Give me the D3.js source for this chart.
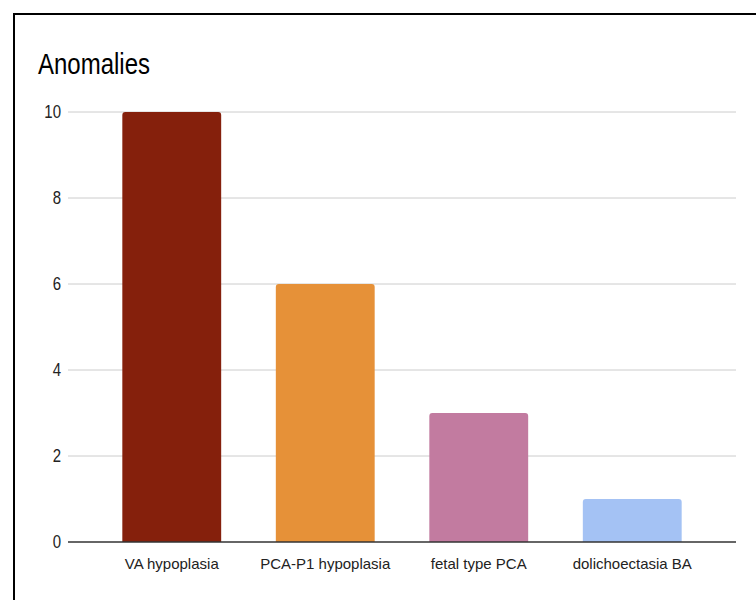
<!DOCTYPE html>
<html><head><meta charset="utf-8">
<script src="https://cdn.jsdelivr.net/npm/d3@7"></script>
<style>html,body{margin:0;padding:0;background:#fff;}svg{display:block;}</style>
</head><body>
<svg id="chart" width="756" height="600"></svg>
<script>
const categories = ["VA hypoplasia", "PCA-P1 hypoplasia", "fetal type PCA", "dolichoectasia BA"];
const values = [10, 6, 3, 1];
const colors = ["#85200c", "#e69138", "#c27ba0", "#a4c2f4"];
const yTicks = [0, 2, 4, 6, 8, 10];
const title = "Anomalies";

const svg = d3.select("#chart");
const font = "'Liberation Sans', Arial, sans-serif";

svg.append("rect").attr("x", 14).attr("y", 14).attr("width", 800).attr("height", 700)
  .attr("fill", "#fff").attr("stroke", "#000").attr("stroke-width", 2);

const y = d3.scaleLinear().domain([0, 10]).range([542, 112]);
const x = d3.scaleBand().domain(categories).range([95, 709]).paddingInner(0.356).paddingOuter(0.178);

const gridX0 = 68, gridX1 = 736;

// gridlines
svg.append("g").selectAll("line").data(yTicks.filter(d => d !== 0)).join("line")
  .attr("x1", gridX0).attr("x2", gridX1)
  .attr("y1", d => y(d)).attr("y2", d => y(d))
  .attr("stroke", "#cccccc").attr("stroke-width", 1);

// y tick labels
svg.append("g").selectAll("text").data(yTicks).join("text")
  .attr("transform", d => `translate(61,${y(d) + 6}) scale(1,1.2)`)
  .attr("text-anchor", "end")
  .attr("font-family", font).attr("font-size", 15).attr("fill", "#222")
  .text(d => d);

// bars with rounded top corners
const r = 3;
svg.append("g").selectAll("path").data(categories).join("path")
  .attr("d", (c, i) => {
    const x0 = x(c), w = x.bandwidth(), yt = y(values[i]), yb = y(0);
    return `M${x0},${yb}V${yt + r}Q${x0},${yt} ${x0 + r},${yt}H${x0 + w - r}Q${x0 + w},${yt} ${x0 + w},${yt + r}V${yb}Z`;
  })
  .attr("fill", (c, i) => colors[i]);

// baseline
svg.append("line").attr("x1", gridX0).attr("x2", gridX1)
  .attr("y1", y(0)).attr("y2", y(0))
  .attr("stroke", "#333").attr("stroke-width", 1.5);

// category labels
svg.append("g").selectAll("text").data(categories).join("text")
  .attr("x", c => x(c) + x.bandwidth() / 2).attr("y", 569)
  .attr("text-anchor", "middle")
  .attr("font-family", font).attr("font-size", 15).attr("fill", "#222")
  .text(c => c);

// title
svg.append("text")
  .attr("transform", "translate(38,74) scale(1,1.2)")
  .attr("font-family", font).attr("font-size", 24).attr("fill", "#000")
  .text(title);
</script>
</body></html>
